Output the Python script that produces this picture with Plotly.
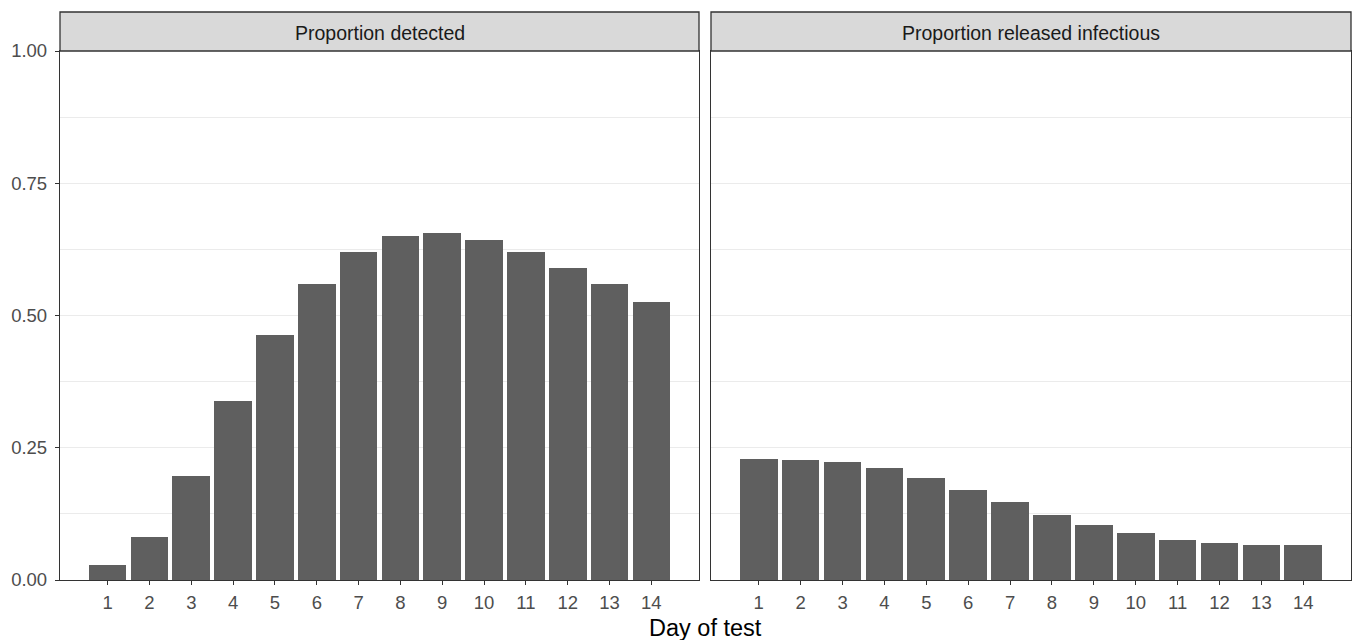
import plotly.graph_objects as go

# Day of test (1-14)
days = list(range(1, 15))
# Proportion of cases detected on each test day
prop_detected = [0.028, 0.082, 0.196, 0.339, 0.464, 0.559, 0.620,
                 0.650, 0.656, 0.642, 0.620, 0.589, 0.559, 0.525]
# Proportion released while still infectious
prop_released = [0.229, 0.226, 0.223, 0.211, 0.192, 0.171, 0.147,
                 0.123, 0.104, 0.089, 0.076, 0.070, 0.067, 0.067]

panel_titles = ["Proportion detected", "Proportion released infectious"]
y_tick_vals = [0, 0.25, 0.5, 0.75, 1.0]
y_tick_text = ["0.00", "0.25", "0.50", "0.75", "1.00"]

W, H = 1359, 640
FONT = "Liberation Sans, Arial, sans-serif"
BAR = "#5f5f5f"
BORDER = "#333333"
GRID = "#ebebeb"
TICK_SIZE = 18.5

# panel geometry in pixels
panels_px = [(60, 699), (711, 1351)]
top_px, bottom_px, strip_top_px = 51, 580, 12

def px_x(v):
    return v / W

def px_y(v):
    return 1 - v / H

fig = go.Figure()

for i, vals in enumerate([prop_detected, prop_released]):
    suffix = "" if i == 0 else "2"
    fig.add_trace(go.Bar(
        x=days, y=vals, width=0.9,
        marker=dict(color=BAR, line=dict(width=0)),
        xaxis="x" + suffix, yaxis="y" + suffix,
        showlegend=False,
    ))

layout = dict(
    width=W, height=H,
    margin=dict(l=0, r=0, t=0, b=0, autoexpand=False),
    paper_bgcolor="white", plot_bgcolor="white",
    font=dict(family=FONT, size=TICK_SIZE, color="#4d4d4d"),
    bargap=0,
    shapes=[], annotations=[],
)

minor_grid = [0.125, 0.375, 0.625, 0.875]

for i, (x0, x1) in enumerate(panels_px):
    suffix = "" if i == 0 else str(i + 1)
    xa = dict(
        domain=[px_x(x0), px_x(x1)],
        range=[-0.14, 15.14],
        tickvals=days, ticktext=[str(d) for d in days],
        ticks="outside", ticklen=4, tickcolor=BORDER, tickwidth=1,
        ticklabelstandoff=2,
        showgrid=False, zeroline=False, automargin=False,
        showline=True, mirror=True, linecolor=BORDER, linewidth=1.3,
        anchor="y" + suffix,
        tickfont=dict(size=TICK_SIZE, color="#4d4d4d"),
    )
    ya = dict(
        domain=[px_y(bottom_px), px_y(top_px)],
        range=[0, 1],
        tickvals=y_tick_vals,
        ticktext=y_tick_text if i == 0 else [""] * 5,
        ticks="outside" if i == 0 else "",
        ticklen=4, tickcolor=BORDER, tickwidth=1,
        ticklabelstandoff=4,
        showticklabels=(i == 0),
        showgrid=True, gridcolor=GRID, gridwidth=1,
        zeroline=False, automargin=False,
        showline=True, mirror=True, linecolor=BORDER, linewidth=1.3,
        anchor="x" + suffix,
        tickfont=dict(size=TICK_SIZE, color="#4d4d4d"),
        minor=dict(tickvals=minor_grid, showgrid=True, gridcolor=GRID, gridwidth=1),
    )
    layout["xaxis" + suffix] = xa
    layout["yaxis" + suffix] = ya

    # facet strip
    layout["shapes"].append(dict(
        type="rect", xref="paper", yref="paper",
        x0=px_x(x0), x1=px_x(x1), y0=px_y(top_px), y1=px_y(strip_top_px),
        fillcolor="#d9d9d9", line=dict(color=BORDER, width=1.3), layer="above",
    ))
    layout["annotations"].append(dict(
        text=panel_titles[i], xref="paper", yref="paper",
        x=px_x((x0 + x1) / 2), y=px_y((top_px + strip_top_px) / 2 + 1),
        xanchor="center", yanchor="middle", showarrow=False,
        font=dict(family=FONT, size=19.5, color="#1a1a1a"),
    ))

# shared x-axis title
layout["annotations"].append(dict(
    text="Day of test", xref="paper", yref="paper",
    x=px_x(705), y=px_y(628), xanchor="center", yanchor="middle",
    showarrow=False, font=dict(family=FONT, size=23.5, color="black"),
))

fig.update_layout(**layout)
fig.write_html("out.html")
